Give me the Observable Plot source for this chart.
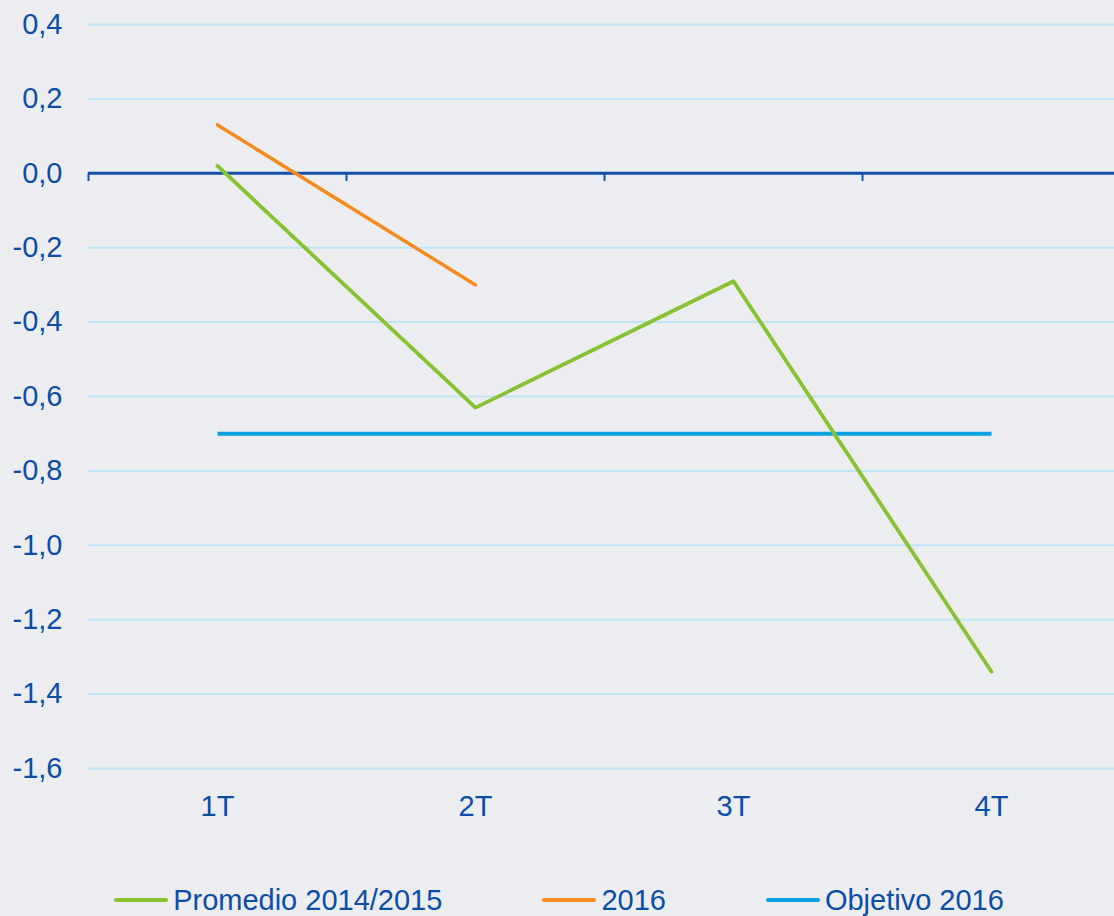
<!DOCTYPE html>
<html>
<head>
<meta charset="utf-8">
<script src="https://cdn.jsdelivr.net/npm/d3@7"></script>
<script src="https://cdn.jsdelivr.net/npm/@observablehq/plot@0.6"></script>
<style>
  html, body { margin: 0; padding: 0; background: #ebedf0; }
  body { width: 1114px; height: 916px; overflow: hidden; font-family: "Liberation Sans", Arial, sans-serif; }
  #legend { display: flex; justify-content: center; align-items: center; height: 100px; color: #0b4ea6; font-size: 29px; padding-left: 4px; }
  .item { display: flex; align-items: center; margin: 0 50px; }
  .sw { width: 54px; height: 4px; border-radius: 2px; margin-right: 5px; }
</style>
</head>
<body>
<div id="chart"></div>
<div id="legend"></div>
<script>
const categories = ["1T", "2T", "3T", "4T"];
const promedio = [0.02, -0.63, -0.29, -1.34];
const y2016 = [0.13, -0.30];
const objetivo = [-0.70, -0.70, -0.70, -0.70];
const yTicks = [0.4, 0.2, 0.0, -0.2, -0.4, -0.6, -0.8, -1.0, -1.2, -1.4, -1.6];
const seriesNames = ["Promedio 2014/2015", "2016", "Objetivo 2016"];
const colors = ["#86c232", "#f58a1f", "#0aa0e2"];

const textColor = "#0b4ea6";
const rows = [];
categories.forEach((c, i) => {
  rows.push({s: seriesNames[0], i, v: promedio[i]});
  if (i < y2016.length) rows.push({s: seriesNames[1], i, v: y2016[i]});
  rows.push({s: seriesNames[2], i, v: objetivo[i]});
});
const boundaries = d3.range(categories.length + 1);

const chart = Plot.plot({
  width: 1114,
  height: 850,
  marginLeft: 88,
  marginRight: 0,
  marginTop: 24,
  marginBottom: 82,
  style: {background: "#ebedf0", color: textColor, fontSize: "29px", fontFamily: "'Liberation Sans', Arial, sans-serif"},
  x: {type: "linear", domain: [0, categories.length], range: [88, 1120]},
  y: {domain: [-1.6, 0.4]},
  color: {domain: seriesNames, range: colors},
  marks: [
    Plot.ruleY(yTicks.filter(d => d !== 0), {stroke: "#bee5f6", strokeWidth: 2}),
    Plot.ruleY([0], {stroke: "#1250aa", strokeWidth: 3}),
    Plot.ruleX(boundaries, {x: d => d, y1: 0, y2: -0.022, stroke: "#1250aa", strokeWidth: 2}),
    Plot.axisY({ticks: yTicks, tickSize: 0, tickPadding: 26, label: null, tickFormat: d => d.toFixed(1).replace(".", ","), fill: textColor}),
    Plot.axisX({ticks: categories.map((c, i) => i + 0.5), tickSize: 0, tickPadding: 27, label: null, tickFormat: d => categories[Math.round(d - 0.5)], fill: textColor}),
    Plot.lineY(rows.filter(r => r.s === seriesNames[2]), {x: r => r.i + 0.5, y: "v", stroke: colors[2], strokeWidth: 4, strokeLinecap: "butt"}),
    Plot.lineY(rows.filter(r => r.s === seriesNames[1]), {x: r => r.i + 0.5, y: "v", stroke: colors[1], strokeWidth: 3.5, strokeLinecap: "round"}),
    Plot.lineY(rows.filter(r => r.s === seriesNames[0]), {x: r => r.i + 0.5, y: "v", stroke: colors[0], strokeWidth: 3.8, strokeLinecap: "round"})
  ]
});
document.getElementById("chart").appendChild(chart);

const legend = document.getElementById("legend");
seriesNames.forEach((n, i) => {
  const it = document.createElement("div");
  it.className = "item";
  const sw = document.createElement("span");
  sw.className = "sw";
  sw.style.background = colors[i];
  const t = document.createElement("span");
  t.textContent = n;
  it.appendChild(sw); it.appendChild(t);
  legend.appendChild(it);
});
</script>
</body>
</html>
